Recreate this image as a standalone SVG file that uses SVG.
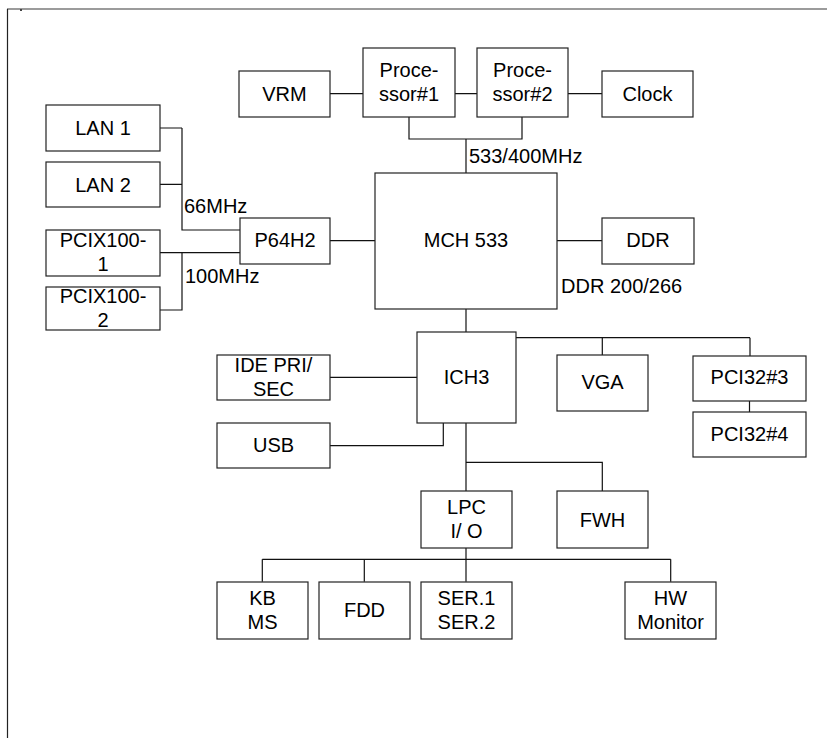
<svg xmlns="http://www.w3.org/2000/svg" width="827" height="738" viewBox="0 0 827 738">
<style>
rect.n{fill:#fff;stroke:#222;stroke-width:1.2}
text{font-family:"Liberation Sans",Arial,sans-serif;font-size:20px;fill:#000;text-anchor:middle}
text.l{text-anchor:start}
.c{fill:none;stroke:#111;stroke-width:1.2}
</style>
<rect width="827" height="738" fill="#fff"/>
<g id="frame">
<line x1="7" y1="9" x2="827" y2="9" stroke="#7a7a7a" stroke-width="1.5"/>
<line x1="7.5" y1="9" x2="7.5" y2="738" stroke="#222" stroke-width="1.2"/>
<rect x="20" y="9" width="2" height="2" fill="#444"/>
</g>
<g id="connectors">
<path class="c" d="M330,93.7H363 M455,93.7H477 M568,93.7H602"/>
<path class="c" d="M409,117V139H522V117 M466,139V173"/>
<path class="c" d="M160,128H182 M160,184.3H182 M182,128V230H240"/>
<path class="c" d="M160,252.7H240 M182,252.7V310H160"/>
<path class="c" d="M330,240.7H375 M557,240.7H602"/>
<path class="c" d="M466,309V332"/>
<path class="c" d="M516,337.7H750 M602.3,337.7V355 M750,337.7V356 M749.5,401V412"/>
<path class="c" d="M330,377.3H417 M443.3,423V445.7H330"/>
<path class="c" d="M466,423V491 M466,462.3H602.3V491"/>
<path class="c" d="M466,548V581.7 M262.3,559.3H670.7 M262.3,559.3V581.7 M364.3,559.3V581.7 M670.7,559.3V581.7"/>
</g>
<g id="labels">
<text class="l" x="469" y="163">533/400MHz</text>
<text class="l" x="184" y="213">66MHz</text>
<text class="l" x="185" y="283">100MHz</text>
<text class="l" x="561" y="293">DDR 200/266</text>
</g>
<g id="vrm"><rect class="n" x="239" y="71" width="91" height="46"/><text x="284.5" y="101">VRM</text></g>
<g id="proc1"><rect class="n" x="363" y="48" width="92" height="69"/><text x="409" y="77">Proce-</text><text x="409" y="100.5">ssor#1</text></g>
<g id="proc2"><rect class="n" x="477" y="48" width="91" height="69"/><text x="522.5" y="77">Proce-</text><text x="522.5" y="100.5">ssor#2</text></g>
<g id="clock"><rect class="n" x="602" y="71" width="91" height="46"/><text x="647.5" y="101">Clock</text></g>
<g id="lan1"><rect class="n" x="46" y="105" width="114" height="46"/><text x="103" y="135">LAN 1</text></g>
<g id="lan2"><rect class="n" x="46" y="162" width="114" height="45"/><text x="103" y="191.5">LAN 2</text></g>
<g id="pcix1"><rect class="n" x="46" y="230" width="114" height="46"/><text x="103" y="246.5">PCIX100-</text><text x="103" y="270.5">1</text></g>
<g id="pcix2"><rect class="n" x="46" y="287" width="114" height="43"/><text x="103" y="303">PCIX100-</text><text x="103" y="326.5">2</text></g>
<g id="p64h2"><rect class="n" x="240" y="218" width="90" height="46"/><text x="285" y="247">P64H2</text></g>
<g id="mch"><rect class="n" x="375" y="173" width="182" height="136"/><text x="466" y="247">MCH 533</text></g>
<g id="ddr"><rect class="n" x="602" y="218" width="92" height="46"/><text x="648" y="247">DDR</text></g>
<g id="ich3"><rect class="n" x="417" y="332" width="99" height="91"/><text x="466.5" y="384">ICH3</text></g>
<g id="vga"><rect class="n" x="557" y="355" width="91" height="56"/><text x="602.5" y="389">VGA</text></g>
<g id="pci3"><rect class="n" x="693" y="356" width="113" height="45"/><text x="749.5" y="384">PCI32#3</text></g>
<g id="pci4"><rect class="n" x="693" y="412" width="113" height="45"/><text x="749.5" y="441">PCI32#4</text></g>
<g id="ide"><rect class="n" x="217" y="355" width="113" height="45"/><text x="273.5" y="372">IDE PRI/</text><text x="273.5" y="395.5">SEC</text></g>
<g id="usb"><rect class="n" x="217" y="423" width="113" height="45"/><text x="273.5" y="452">USB</text></g>
<g id="lpc"><rect class="n" x="421" y="491" width="91" height="57"/><text x="466.5" y="514">LPC</text><text x="466.5" y="538">I/ O</text></g>
<g id="fwh"><rect class="n" x="557" y="491" width="91" height="57"/><text x="602.5" y="527">FWH</text></g>
<g id="kbms"><rect class="n" x="217" y="582" width="91" height="57"/><text x="262.5" y="605">KB</text><text x="262.5" y="629">MS</text></g>
<g id="fdd"><rect class="n" x="319" y="582" width="91" height="57"/><text x="364.5" y="617">FDD</text></g>
<g id="ser"><rect class="n" x="421" y="582" width="91" height="57"/><text x="466.5" y="605">SER.1</text><text x="466.5" y="629">SER.2</text></g>
<g id="hwmon"><rect class="n" x="625" y="582" width="91" height="57"/><text x="670.5" y="605">HW</text><text x="670.5" y="629">Monitor</text></g>
</svg>
